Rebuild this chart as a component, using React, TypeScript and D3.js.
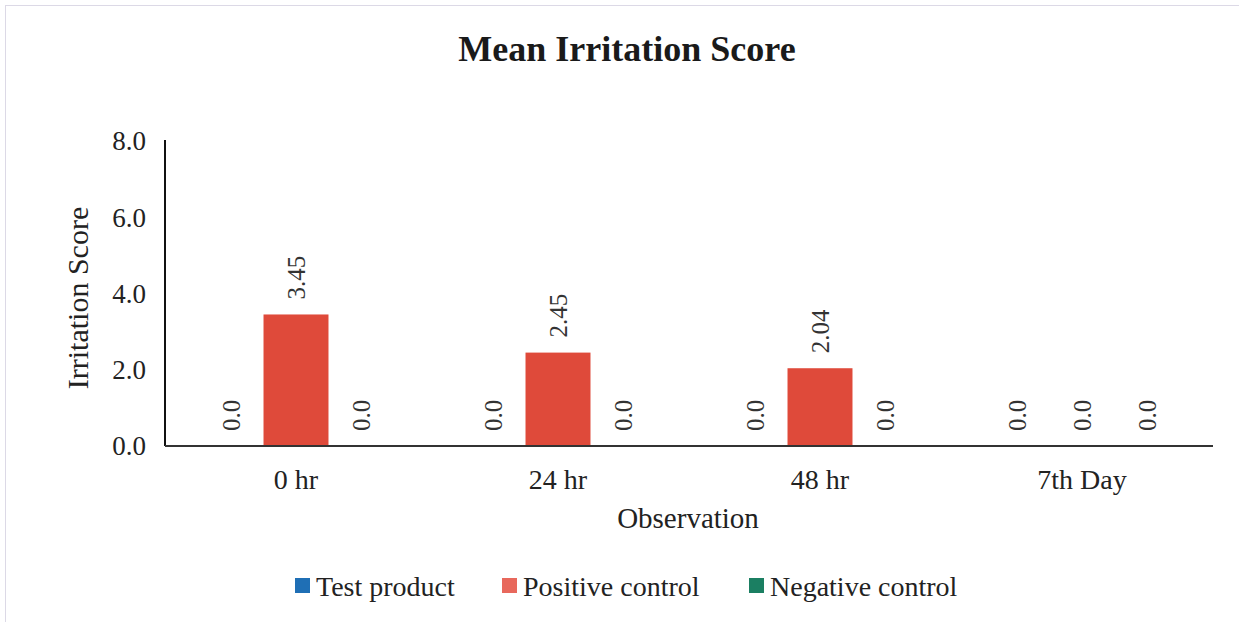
import { useEffect, useRef } from "react";
import * as d3 from "d3";

const categories = ["0 hr", "24 hr", "48 hr", "7th Day"];
const seriesNames = ["Test product", "Positive control", "Negative control"];
const testProduct = [0.0, 0.0, 0.0, 0.0];
const positiveControl = [3.45, 2.45, 2.04, 0.0];
const negativeControl = [0.0, 0.0, 0.0, 0.0];
const yTicks = [0, 2, 4, 6, 8];

const barColors = ["#1f6fb5", "#df4a3a", "#1b7f62"];
const legendColors = ["#1f6fb5", "#e8685c", "#1b7f62"];

const W = 1239;
const H = 622;
const FONT = "'Liberation Serif', 'Times New Roman', serif";

export default function App() {
  const svgRef = useRef<SVGSVGElement | null>(null);

  useEffect(() => {
    if (!svgRef.current) return;
    const svg = d3.select(svgRef.current);
    svg.selectAll("*").remove();

    const left = 165;
    const right = 1213;
    const top = 141;
    const bottom = 446;

    // faint scan border
    svg
      .append("rect")
      .attr("x", 5.5)
      .attr("y", 5.5)
      .attr("width", W - 4)
      .attr("height", H)
      .attr("fill", "none")
      .attr("stroke", "#dcd9e6")
      .attr("stroke-width", 1);

    const values = [testProduct, positiveControl, negativeControl];

    const x0 = d3
      .scaleBand<string>()
      .domain(categories)
      .range([left, right])
      .paddingInner(0.256)
      .paddingOuter(0.128);

    const x1 = d3
      .scaleBand<string>()
      .domain(seriesNames)
      .range([0, x0.bandwidth()]);

    const y = d3.scaleLinear().domain([0, 8]).range([bottom, top]);

    svg
      .append("text")
      .attr("x", 627)
      .attr("y", 61)
      .attr("text-anchor", "middle")
      .attr("font-family", FONT)
      .attr("font-weight", "bold")
      .attr("font-size", 36)
      .attr("fill", "#1a1a1a")
      .text("Mean Irritation Score");

    // y tick labels
    svg
      .append("g")
      .selectAll("text")
      .data(yTicks)
      .enter()
      .append("text")
      .attr("x", 146)
      .attr("y", (d) => y(d))
      .attr("dy", "0.35em")
      .attr("text-anchor", "end")
      .attr("font-family", FONT)
      .attr("font-size", 27)
      .attr("fill", "#222")
      .text((d) => d3.format(".1f")(d));

    // bars
    const groups = svg
      .append("g")
      .selectAll("g")
      .data(categories)
      .enter()
      .append("g")
      .attr("transform", (c) => `translate(${x0(c)},0)`);

    seriesNames.forEach((s, si) => {
      groups
        .append("rect")
        .attr("x", x1(s)!)
        .attr("y", (_c, i) => y(values[si][i]))
        .attr("width", x1.bandwidth())
        .attr("height", (_c, i) => bottom - y(values[si][i]))
        .attr("fill", barColors[si]);

      groups
        .append("text")
        .attr(
          "transform",
          (_c, i) =>
            `translate(${x1(s)! + x1.bandwidth() / 2},${y(values[si][i]) - 15}) rotate(-90)`
        )
        .attr("dy", "0.35em")
        .attr("text-anchor", "start")
        .attr("font-family", FONT)
        .attr("font-size", 25)
        .attr("fill", "#333")
        .text((_c, i) =>
          values[si][i] === 0 ? "0.0" : d3.format(".2f")(values[si][i])
        );
    });

    // axes lines
    svg
      .append("line")
      .attr("x1", left)
      .attr("x2", left)
      .attr("y1", top - 1)
      .attr("y2", bottom)
      .attr("stroke", "#111")
      .attr("stroke-width", 2);
    svg
      .append("line")
      .attr("x1", left)
      .attr("x2", right)
      .attr("y1", bottom)
      .attr("y2", bottom)
      .attr("stroke", "#333")
      .attr("stroke-width", 2);

    // category labels
    svg
      .append("g")
      .selectAll("text")
      .data(categories)
      .enter()
      .append("text")
      .attr("x", (c) => x0(c)! + x0.bandwidth() / 2)
      .attr("y", 489)
      .attr("text-anchor", "middle")
      .attr("font-family", FONT)
      .attr("font-size", 28)
      .attr("fill", "#222")
      .text((c) => c);

    svg
      .append("text")
      .attr("x", 688)
      .attr("y", 528)
      .attr("text-anchor", "middle")
      .attr("font-family", FONT)
      .attr("font-size", 29)
      .attr("fill", "#222")
      .text("Observation");

    svg
      .append("text")
      .attr("transform", `translate(88,298) rotate(-90)`)
      .attr("text-anchor", "middle")
      .attr("font-family", FONT)
      .attr("font-size", 30)
      .attr("fill", "#222")
      .text("Irritation Score");

    // legend
    const legendX = [295, 502, 749];
    const legend = svg
      .append("g")
      .selectAll("g")
      .data(seriesNames)
      .enter()
      .append("g")
      .attr("transform", (_s, i) => `translate(${legendX[i]},586)`);
    legend
      .append("rect")
      .attr("x", 0)
      .attr("y", -8)
      .attr("width", 15)
      .attr("height", 15)
      .attr("fill", (_s, i) => legendColors[i]);
    legend
      .append("text")
      .attr("x", 21)
      .attr("y", 0)
      .attr("dy", "0.35em")
      .attr("font-family", FONT)
      .attr("font-size", 28)
      .attr("fill", "#222")
      .text((s) => s);
  }, []);

  return (
    <svg
      ref={svgRef}
      width={W}
      height={H}
      style={{ position: "absolute", left: 0, top: 0, background: "#fff" }}
    />
  );
}
